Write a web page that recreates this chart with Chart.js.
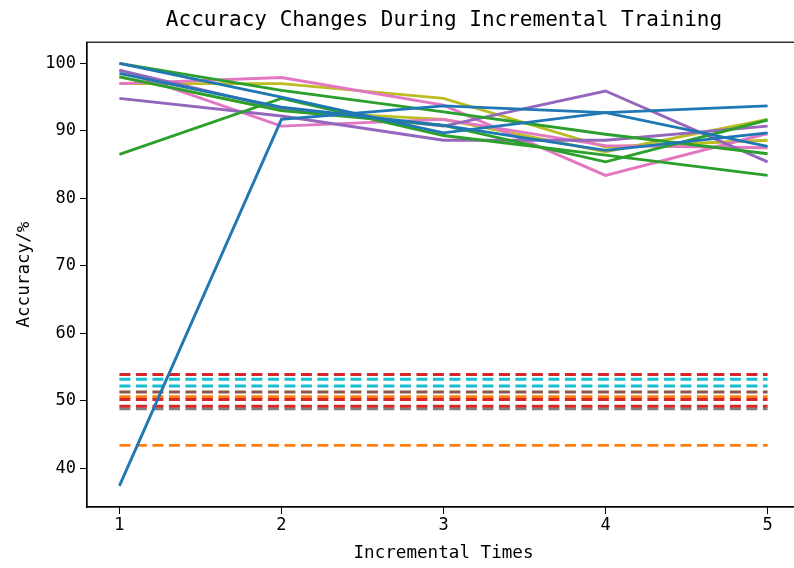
<!DOCTYPE html>
<html>
<head>
<meta charset="utf-8">
<script src="https://cdn.jsdelivr.net/npm/chart.js@4"></script>
<style>
  html, body { margin: 0; padding: 0; background: #fff; overflow: hidden; }
  #wrap { width: 888px; height: 568px; }
</style>
</head>
<body>
<div id="wrap"><canvas id="chart" width="888" height="568"></canvas></div>
<script>
// x positions and axis ticks
const xValues = [1, 2, 3, 4, 5]
const yTicks = [40, 50, 60, 70, 80, 90, 100]

// incremental accuracy per run (solid lines)
const blue1 = [37.4, 91.7, 93.7, 92.7, 93.7]
const blue2 = [100.0, 95.0, 89.7, 92.7, 87.7]
const blue3 = [98.5, 93.5, 90.8, 87.1, 89.7]
const green1 = [100.0, 96.0, 92.8, 89.5, 86.6]
const green2 = [98.0, 93.0, 90.8, 85.4, 91.6]
const green3 = [86.5, 94.8, 89.3, 86.4, 83.4]
const purple1 = [94.8, 92.2, 88.6, 88.6, 90.7]
const purple2 = [99.0, 93.3, 90.7, 95.9, 85.4]
const pink1 = [97.0, 97.9, 93.8, 83.4, 89.6]
const pink2 = [99.0, 90.7, 91.7, 87.8, 87.5]
const olive1 = [97.0, 97.0, 94.8, 87.6, 88.6]
const olive2 = [98.0, 93.0, 91.7, 86.9, 91.7]

// baselines (dashed lines)
const redBase = [53.9, 50.2, 49.2]
const cyanBase = [53.2, 52.2]
const brownBase = [51.3]
const orangeBase = [50.6, 43.4]
const grayBase = [48.8]

const mono = "'DejaVu Sans Mono', monospace"

const solidSeries = [
  [blue1, '#1f77b4'], [blue2, '#1f77b4'], [blue3, '#1f77b4'],
  [green1, '#2ca02c'], [green2, '#2ca02c'], [green3, '#2ca02c'],
  [purple1, '#9467bd'], [purple2, '#9467bd'],
  [pink1, '#e377c2'], [pink2, '#e377c2'],
  [olive1, '#bcbd22'], [olive2, '#bcbd22']
]
const dashedSeries = [
  [redBase, '#d62728'], [cyanBase, '#17becf'], [brownBase, '#8c564b'],
  [orangeBase, '#ff7f0e'], [grayBase, '#7f7f7f']
]

const datasets = []
solidSeries.forEach(([vals, color]) => {
  datasets.push({
    data: vals.map((v, i) => ({ x: xValues[i], y: v })),
    borderColor: color, borderWidth: 2.9, pointRadius: 0, tension: 0, fill: false
  })
})
dashedSeries.forEach(([levels, color]) => {
  levels.forEach(v => {
    datasets.push({
      data: xValues.map(x => ({ x, y: v })),
      borderColor: color, borderWidth: 2.9, borderDash: [11, 5.5], pointRadius: 0, tension: 0, fill: false
    })
  })
})

// frame round the plot
const spines = {
  id: 'spines',
  afterDraw(chart) {
    const { ctx, chartArea } = chart
    ctx.save()
    ctx.strokeStyle = '#000'
    ctx.lineWidth = 1.2
    ctx.strokeRect(chartArea.left, chartArea.top, chartArea.right - chartArea.left, chartArea.bottom - chartArea.top)
    ctx.restore()
  }
}

new Chart(document.getElementById('chart'), {
  type: 'line',
  data: { datasets },
  plugins: [spines],
  options: {
    responsive: false,
    animation: false,
    layout: { padding: 0 },
    plugins: {
      legend: { display: false },
      tooltip: { enabled: false },
      title: {
        display: true,
        text: 'Accuracy Changes During Incremental Training',
        color: '#000',
        font: { family: mono, size: 21, weight: 'normal' },
        padding: { top: 8, bottom: 9 }
      }
    },
    scales: {
      x: {
        type: 'linear', min: 0.8, max: 5.2,
        afterBuildTicks: s => { s.ticks = xValues.map(v => ({ value: v })) },
        afterFit: s => { s.height = 61 },
        grid: { drawOnChartArea: false, drawTicks: true, tickLength: 7, tickColor: '#000', tickWidth: 1 },
        border: { display: true, color: '#000', width: 1.2 },
        ticks: { color: '#000', font: { family: mono, size: 17 }, padding: 1, maxRotation: 0 },
        title: {
          display: true, text: 'Incremental Times', color: '#000',
          font: { family: mono, size: 17.6 }, padding: { top: 0, bottom: 4 }
        }
      },
      y: {
        type: 'linear', min: 34.27, max: 103.13,
        afterBuildTicks: s => { s.ticks = yTicks.map(v => ({ value: v })) },
        afterFit: s => { s.width = 87 },
        grid: { drawOnChartArea: false, drawTicks: true, tickLength: 7, tickColor: '#000', tickWidth: 1 },
        border: { display: true, color: '#000', width: 1.2 },
        ticks: { color: '#000', font: { family: mono, size: 17 }, padding: 4 },
        title: {
          display: true, text: 'Accuracy/%', color: '#000',
          font: { family: mono, size: 17.6 }, padding: { top: 14, bottom: 0 }
        }
      },
      // empty right-hand box so the plot runs past the window edge like the reference
      yRight: {
        type: 'linear', position: 'right', display: true,
        afterFit: s => { s.width = 88 },
        grid: { display: false },
        border: { display: false },
        ticks: { display: false }
      }
    }
  }
})
</script>
</body>
</html>
